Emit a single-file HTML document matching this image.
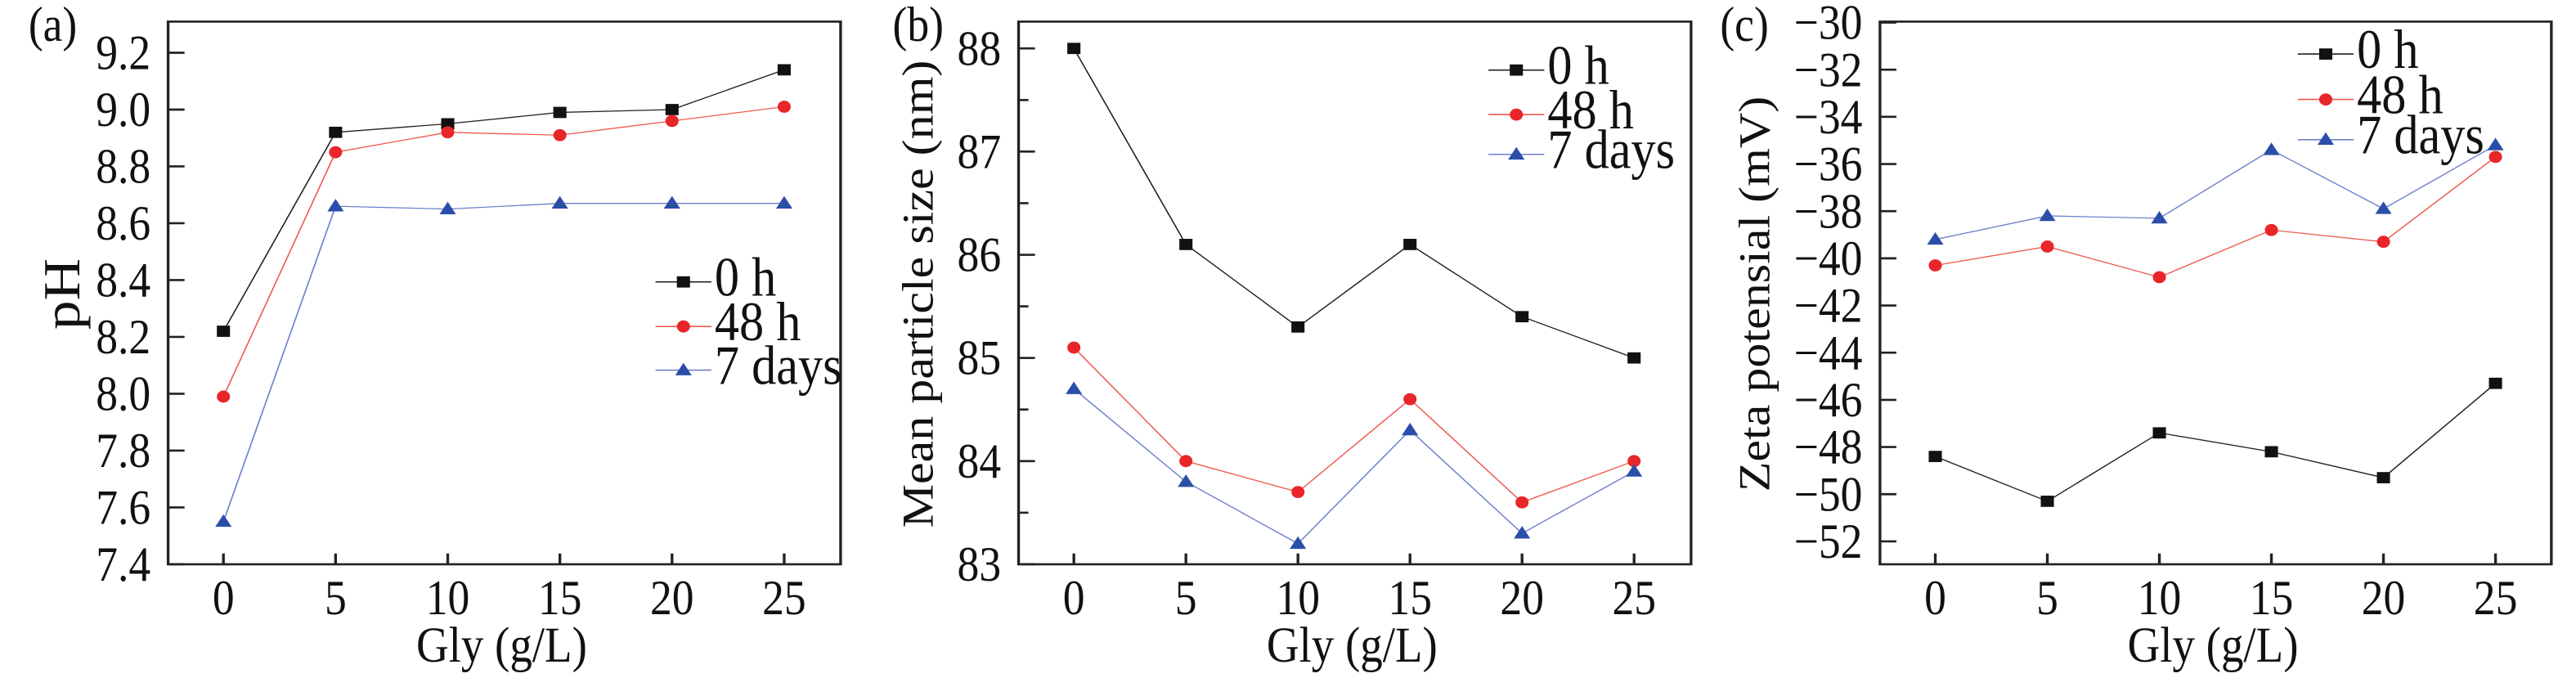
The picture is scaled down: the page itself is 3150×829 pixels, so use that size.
<!DOCTYPE html>
<html><head><meta charset="utf-8"><style>html,body{margin:0;padding:0;background:#fff}svg{display:block}</style></head>
<body>
<svg id="fig" width="3150" height="829" viewBox="0 0 4704 1568" preserveAspectRatio="none" xmlns="http://www.w3.org/2000/svg" font-family="'Liberation Serif', serif"></svg>
<script>
const categories = [0, 5, 10, 15, 20, 25];
const seriesNames = ['0 h', '48 h', '7 days'];
const phZero = [8.22, 8.92, 8.95, 8.99, 9.00, 9.14];
const phFortyEight = [7.99, 8.85, 8.92, 8.91, 8.96, 9.01];
const phSeven = [7.55, 8.66, 8.65, 8.67, 8.67, 8.67];
const phTicks = [7.4, 7.6, 7.8, 8.0, 8.2, 8.4, 8.6, 8.8, 9.0, 9.2];
const sizeZero = [88.0, 86.1, 85.3, 86.1, 85.4, 85.0];
const sizeFortyEight = [85.1, 84.0, 83.7, 84.6, 83.6, 84.0];
const sizeSeven = [84.7, 83.8, 83.2, 84.3, 83.3, 83.9];
const sizeTicks = [83, 84, 85, 86, 87, 88];
const zetaZero = [-48.4, -50.3, -47.4, -48.2, -49.3, -45.3];
const zetaFortyEight = [-40.3, -39.5, -40.8, -38.8, -39.3, -35.7];
const zetaSeven = [-39.2, -38.2, -38.3, -35.4, -37.9, -35.2];
const zetaTicks = [-52, -50, -48, -46, -44, -42, -40, -38, -36, -34, -32, -30];

const NS = 'http://www.w3.org/2000/svg';
const svg = document.getElementById('fig');
const colors = ['#111', '#e8262a', '#2b4fa8'];
const lineColors = ['#222', '#ee5a50', '#6d80cc'];
const SY = 1.42;

function mk(tag, attrs, parent) {
  const e = document.createElementNS(NS, tag);
  for (const k in attrs) e.setAttribute(k, attrs[k]);
  (parent || svg).appendChild(e);
  return e;
}
function txt(parent, s, x, y, size, anchor, rot) {
  const t = mk('text', {transform: `translate(${x},${y}) ${rot ? 'rotate(-90) scale(' + SY + ',1)' : 'scale(1,' + SY + ')'}`, 'font-size': size, 'text-anchor': anchor, fill: '#111'}, parent);
  t.textContent = s;
  return t;
}
function marker(g, i, x, y) {
  let m;
  if (i === 0) m = mk('rect', {x: x - 12, y: y - 13, width: 24, height: 26, fill: colors[0]}, g);
  else if (i === 1) m = mk('ellipse', {cx: x, cy: y, rx: 12, ry: 14, fill: colors[1]}, g);
  else m = mk('polygon', {points: `${x},${y - 17} ${x - 15},${y + 12} ${x + 15},${y + 12}`, fill: colors[2]}, g);
  return m;
}

function panel(cfg) {
  const g = mk('g', {transform: `translate(${cfg.ox},0)`});
  
  
  const xs = v => cfg.x0 + (v - categories[0]) / (categories[5] - categories[0]) * (cfg.x1 - cfg.x0);
  const ys = v => cfg.yA + (v - cfg.vA) / (cfg.vB - cfg.vA) * (cfg.yB - cfg.yA);
  const box = mk('rect', {x: cfg.L, y: 50, width: cfg.R - cfg.L, height: 1305 - 50, fill: 'none', stroke: '#222', 'stroke-width': 5}, g);
  
  
  cfg.ticks.forEach(v => {
    const y = ys(v);
    mk('line', {x1: cfg.L, x2: cfg.L + 30, y1: y, y2: y, stroke: '#222', 'stroke-width': 5}, g);
    const lab = txt(g, (v < 0 ? '\u2212' + Math.abs(v) : (cfg.dec ? v.toFixed(1) : String(v))), cfg.L - 32, y + 38, 80, 'end');
    
    
  });
  if (cfg.minor) cfg.ticks.slice(0, -1).forEach(v => {
    const y = ys(v + 0.5);
    mk('line', {x1: cfg.L, x2: cfg.L + 18, y1: y, y2: y, stroke: '#222', 'stroke-width': 5}, g);
  });
  categories.forEach(c => {
    const x = xs(c);
    mk('line', {x1: x, x2: x, y1: 1305, y2: 1280, stroke: '#222', 'stroke-width': 5}, g);
    const lab = txt(g, String(c), x, 1420, 80, 'middle');
    
    
  });
  const xt = txt(g, 'Gly (g/L)', (cfg.L + cfg.R) / 2 - 5, 1530, 82, 'middle');
  
  
  const yt = txt(g, cfg.ytitle, cfg.ytx, 680, cfg.ytSize || 80, 'middle', true);
  
  
  const pl = txt(g, cfg.label, cfg.lx, 95, 80, 'start');
  
  
  cfg.series.forEach((arr, i) => {
    const sg = mk('g', {}, g);
    
    
    const pts = arr.map((v, k) => xs(categories[k]) + ',' + ys(v)).join(' ');
    mk('polyline', {points: pts, fill: 'none', stroke: lineColors[i], 'stroke-width': 2.5}, sg);
    arr.forEach((v, k) => {
      const m = marker(sg, i, xs(categories[k]), ys(v));
      
      
    });
  });
  const lg = mk('g', {}, g);
  
  
  seriesNames.forEach((n, i) => {
    const y = cfg.legY[i];
    const e = mk('g', {}, lg);
    
    
    mk('line', {x1: cfg.legX, x2: cfg.legX + 102, y1: y, y2: y, stroke: lineColors[i], 'stroke-width': 3}, e);
    marker(e, i, cfg.legX + 51, y);
    txt(e, n, cfg.legX + 108, y + 32, 90, 'start');
  });
}

panel({name: 'panel-a-ph', ox: 0, L: 307, R: 1535, x0: 408, x1: 1432, yA: 122, vA: 9.2, yB: 1305, vB: 7.4,
  ticks: phTicks, dec: true, ytitle: 'pH', ytx: 145, ytSize: 95, label: '(a)', lx: 52,
  series: [phZero, phFortyEight, phSeven], legX: 1197, legY: [652, 755, 856]});
panel({name: 'panel-b-size', ox: 1568, L: 292, R: 1520, x0: 393, x1: 1416, yA: 112, vA: 88, yB: 1305, vB: 83,
  ticks: sizeTicks, minor: true, ytitle: 'Mean particle size (nm)', ytx: 135, label: '(b)', lx: 62,
  series: [sizeZero, sizeFortyEight, sizeSeven], legX: 1150, legY: [162, 265, 357]});
panel({name: 'panel-c-zeta', ox: 3136, L: 297, R: 1523, x0: 398, x1: 1421, yA: 52, vA: -30, yB: 1252, vB: -52,
  ticks: zetaTicks, ytitle: 'Zeta potensial (mV)', ytx: 95, label: '(c)', lx: 5,
  series: [zetaZero, zetaFortyEight, zetaSeven], legX: 1060, legY: [125, 230, 323]});
</script>
</body></html>
